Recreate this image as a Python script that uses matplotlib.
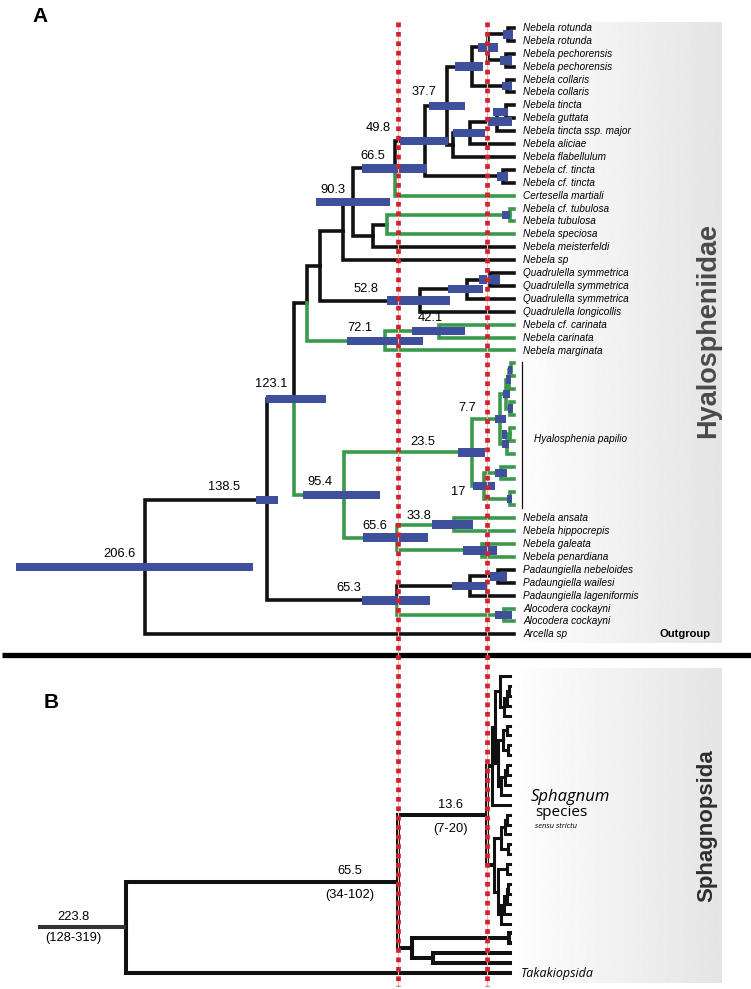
import matplotlib
matplotlib.use("Agg")
import matplotlib.pyplot as plt
import numpy as np
from matplotlib import transforms
from matplotlib.lines import Line2D

W, H = 751, 989

# ------------------------------------------------------------------ data A
A_TIPS = ["Nebela rotunda", "Nebela rotunda", "Nebela pechorensis", "Nebela pechorensis",
          "Nebela collaris", "Nebela collaris", "Nebela tincta", "Nebela guttata",
          "Nebela tincta ssp. major", "Nebela aliciae", "Nebela flabellulum",
          "Nebela cf. tincta", "Nebela cf. tincta", "Certesella martiali",
          "Nebela cf. tubulosa", "Nebela tubulosa", "Nebela speciosa", "Nebela meisterfeldi",
          "Nebela sp", "Quadrulella symmetrica", "Quadrulella symmetrica",
          "Quadrulella symmetrica", "Quadrulella longicollis", "Nebela cf. carinata",
          "Nebela carinata", "Nebela marginata"] + [""] * 12 + [
          "Nebela ansata", "Nebela hippocrepis", "Nebela galeata", "Nebela penardiana",
          "Padaungiella nebeloides", "Padaungiella wailesi", "Padaungiella lageniformis",
          "Alocodera cockayni", "Alocodera cockayni", "Arcella sp"]

# (node, children, age in Ma)
A_NODES = [
    ("rot", [0, 1], 3.4), ("pech", [2, 3], 4.5), ("rp", ["rot", "pech"], 14.6),
    ("col", [4, 5], 3.9), ("rpc", ["rp", "col"], 23.5),
    ("tg", [6, 7], 4.5), ("tgm", ["tg", 8], 9.5), ("ali", ["tgm", 9], 24.6),
    ("flab", ["ali", 10], 34.2), ("n37", ["rpc", "flab"], 37.7),
    ("cft", [11, 12], 6.2), ("n49", ["n37", "cft"], 49.8), ("n66", ["n49", 13], 66.5),
    ("tubp", [14, 15], 2.2), ("tub", ["tubp", 16], 71.1), ("tubm", ["tub", 17], 78.9),
    ("n90", ["n66", "tubm"], 90.3), ("nsp", ["n90", 18], 95.7),
    ("qp", [19, 20], 13.4), ("qs", ["qp", 21], 26.3), ("n52", ["qs", 22], 52.8),
    ("nq", ["nsp", "n52"], 108.6),
    ("n42", [23, 24], 42.1), ("n72", ["n42", 25], 72.1), ("nc", ["nq", "n72"], 115.9),
    ("a1", [26, 27], 1.5), ("a2", ["a1", 28], 3.0), ("a3", [29, 30], 2.0),
    ("pa", ["a2", "a3"], 4.5), ("b1", [31, 32], 2.0), ("pb", ["b1", 33], 4.0),
    ("n7", ["pa", "pb"], 7.7), ("c1", [34, 35], 7.0), ("c2", [36, 37], 2.5),
    ("n17", ["c1", "c2"], 17.0), ("n23", ["n7", "n17"], 23.5),
    ("n33", [38, 39], 33.8), ("gp", [40, 41], 17.9), ("n65b", ["n33", "gp"], 65.6),
    ("n95", ["n23", "n65b"], 95.4), ("n123", ["nc", "n95"], 123.1),
    ("nw", [42, 43], 9.0), ("pad", ["nw", 44], 24.6), ("alo", [45, 46], 5.6),
    ("n65", ["pad", "alo"], 65.3), ("n138", ["n123", "n65"], 138.5),
    ("root", ["n138", 47], 206.6),
]

# 95% HPD intervals (older, younger) in Ma
A_BARS = {
    "root": (278.8, 146.1), "n138": (144.5, 132.1), "n123": (138.9, 105.3),
    "n95": (118.1, 75.0), "n90": (110.9, 69.4), "n72": (93.5, 51.0),
    "n66": (85.1, 48.7), "n65b": (84.5, 48.2), "n65": (85.1, 47.0),
    "n52": (71.1, 35.8), "n49": (63.8, 37.0), "n42": (57.1, 27.4),
    "n37": (47.6, 27.4), "n33": (45.9, 23.0), "qs": (37.0, 17.4),
    "rpc": (33.0, 17.4), "n23": (31.4, 16.2), "ali": (34.2, 16.2),
    "pad": (34.7, 14.6), "n17": (23.0, 10.6), "gp": (28.6, 9.5),
    "rp": (20.2, 9.0), "qp": (19.6, 7.8), "tgm": (15.1, 1.1), "tg": (11.8, 3.4),
    "n7": (10.6, 4.5), "nw": (13.4, 3.9), "cft": (9.5, 3.4), "tubp": (6.7, 2.2),
    "alo": (10.6, 1.1), "rot": (6.2, 0.6), "pech": (7.8, 1.1), "col": (6.7, 1.1),
    "a1": (3.4, 1.1), "a2": (4.5, 1.7), "a3": (3.4, 0.6), "pa": (6.2, 2.2),
    "b1": (6.7, 3.9), "pb": (6.7, 2.8), "c1": (10.6, 3.9), "c2": (3.9, 1.1),
}

A_LABELED = ["root", "n138", "n123", "n95", "n90", "n72", "n66", "n65b", "n65",
             "n52", "n49", "n42", "n37", "n33", "n23", "n17", "n7"]
A_GREEN_CLADES = ["n95", "n72", "alo", "tubp", 13, 16]

# ------------------------------------------------------------------ data B
B_TIPS = [""] * 30 + ["Takakiopsida"]
B_NODES = [
    ("s1", [1, 2], 0.8), ("s2", ["s1", 3], 2.0), ("s3", ["s2", 4], 3.5),
    ("s4", [0, "s3"], 6.0), ("s5", [5, 6], 1.5), ("s6", [7, 8], 1.2),
    ("s7", ["s5", "s6"], 4.0), ("s8", [9, 10], 1.5), ("s9", ["s8", 11], 3.0),
    ("s10", ["s9", 12], 5.5), ("s11", ["s7", "s10"], 7.0), ("s12", ["s4", "s11"], 9.0),
    ("su", ["s12", 13], 10.5),
    ("d1", [14, 15], 1.5), ("d2", ["d1", 16], 3.0), ("d3", [17, 18], 1.0),
    ("d4", ["d2", "d3"], 5.0), ("d5", [19, 20], 2.0), ("d6", [21, 22], 1.0),
    ("d7", ["d6", 23], 2.0), ("d8", ["d7", 24], 3.5), ("d9", ["d8", 25], 5.0),
    ("d10", ["d5", "d9"], 7.0), ("sd", ["d4", "d10"], 9.5),
    ("sph", ["su", "sd"], 13.6),
    ("l1", [26, 27], 0.3), ("l2", [28, 29], 44.9), ("low", ["l1", "l2"], 57.1),
    ("n65", ["sph", "low"], 65.5), ("root", ["n65", 30], 223.8),
]
B_ROOT_STEM = 275.0
B_LABELS = {"root": ("223.8", "(128-319)"), "n65": ("65.5", "(34-102)"),
            "sph": ("13.6", "(7-20)")}
SPHAGNUM_NODES = ["su", "sd", "s1", "s2", "s3", "s4", "s5", "s6", "s7", "s8", "s9",
                  "s10", "s11", "s12", "d1", "d2", "d3", "d4", "d5", "d6", "d7",
                  "d8", "d9", "d10"]

REF_LINES = [65.5, 13.6]   # red dotted time markers (Ma)

# ------------------------------------------------------------------ style
BLACK = "#111111"
GREEN = "#3a9a4c"
BLUE = "#3e4f9c"
RED = "#d0232a"
NUM_FONT = ["Liberation Sans", "DejaVu Sans"]
TIP_FONT = ["Liberation Sans Narrow", "Liberation Sans", "DejaVu Sans"]
OPEN = ["Open Sans", "DejaVu Sans"]

# label offsets in pixels (dx, dy; dy downwards)
A_LABEL_OFF = {"root": (-26, -13), "n138": (-43, -13), "n123": (-23, -15),
               "n95": (-24, -13), "n90": (-20, -12), "n72": (-25, -13),
               "n66": (-22, -12), "n65b": (-22, -12), "n65": (-49, -12),
               "n52": (-54, -12), "n49": (-47, -13), "n42": (-8, -13),
               "n37": (-23, -14), "n33": (-35, -9), "n23": (-49, -10),
               "n17": (-25, 6), "n7": (-33, -11)}
B_LABEL_OFF = {"root": (-53, -10, 11), "n65": (-48, -11, 13), "sph": (-36, -10, 14)}

fig = plt.figure(figsize=(W / 100, H / 100), dpi=100)

# background decoration axes in pixel units
bg = fig.add_axes([0, 0, 1, 1], zorder=0)
bg.set_xlim(0, W)
bg.set_ylim(H, 0)
bg.axis("off")
grad = np.linspace(0.995, 0.895, 256)[None, :]
bg.imshow(grad, cmap="gray", vmin=0, vmax=1, aspect="auto",
          extent=(516, 722, 643, 22), interpolation="bilinear")
bg.imshow(grad, cmap="gray", vmin=0, vmax=1, aspect="auto",
          extent=(517, 722, 983, 668), interpolation="bilinear")
bg.set_xlim(0, W)
bg.set_ylim(H, 0)
bg.plot([2, W], [655, 655], color="black", lw=3.8, solid_capstyle="butt")
bg.text(40, 17, "A", fontsize=15, fontweight="bold", family=NUM_FONT,
        ha="center", va="center")
bg.text(51, 703, "B", fontsize=15, fontweight="bold", family=NUM_FONT,
        ha="center", va="center")
bg.text(708, 331, "Hyalospheniidae", rotation=90, fontsize=19.5, fontweight="bold",
        color="#4a4a4a", family=NUM_FONT, ha="center", va="center")
bg.text(707, 826, "Sphagnopsida", rotation=90, fontsize=16, fontweight="bold",
        color="#2e2e2e", family=NUM_FONT, ha="center", va="center")
bg.text(660, 634, "Outgroup", fontsize=8, fontweight="bold", family=NUM_FONT,
        ha="left", va="center")
bg.text(531, 797, "Sphagnum", fontsize=12, style="italic", family=OPEN,
        ha="left", va="center")
bg.text(535, 812, "species", fontsize=11, family=OPEN, ha="left", va="center")
bg.text(535, 826, "sensu strictu", fontsize=5.5, style="italic", family=OPEN,
        ha="left", va="center")


def layout(tips, nodes):
    ypos = {i: float(i) for i in range(len(tips))}
    age = {i: 0.0 for i in range(len(tips))}
    kids = {}
    for name, ch, a in nodes:
        kids[name] = ch
        age[name] = a
        ys = [ypos[c] for c in ch]
        ypos[name] = (min(ys) + max(ys)) / 2
    return ypos, age, kids


def descendants(kids, n):
    out = {n}
    for c in kids.get(n, []):
        out |= descendants(kids, c)
    return out


def draw_tree(ax, nodes, ypos, age, green, lw, lw_small=None, small=()):
    for col_pass in (False, True):
        for name, ch, a in nodes:
            for c in ch:
                is_g = c in green
                if is_g != col_pass:
                    continue
                w = lw_small if (lw_small and name in small) else lw
                ax.plot([a, a, age[c]], [ypos[name], ypos[c], ypos[c]],
                        color=GREEN if is_g else BLACK, lw=w,
                        solid_joinstyle="miter", solid_capstyle="projecting",
                        zorder=2)


# ------------------------------------------------------------------ panel A
A_PX_PER_MA = 1.786
A_X0 = 514.0            # pixel of age 0
A_Y0, A_DY = 28.0, 12.9  # pixel of tip 0, spacing
axA = fig.add_axes([0, (H - 655) / H, 1, 655 / H], zorder=1)
axA.set_xlim(A_X0 / A_PX_PER_MA, (A_X0 - W) / A_PX_PER_MA)
axA.set_ylim((655 - A_Y0) / A_DY, -A_Y0 / A_DY)
axA.axis("off")
axA.patch.set_alpha(0)

yA, ageA, kidsA = layout(A_TIPS, A_NODES)
greenA = set()
for g in A_GREEN_CLADES:
    greenA |= descendants(kidsA, g)
draw_tree(axA, A_NODES, yA, ageA, greenA, lw=2.6)

for n, (hi, lo) in A_BARS.items():
    axA.barh(yA[n], hi - lo, left=lo, height=0.66, color=BLUE, zorder=3)

for n in A_LABELED:
    dx, dy = A_LABEL_OFF[n]
    axA.annotate(f"{ageA[n]:g}", xy=(ageA[n], yA[n]), xytext=(dx * 0.72, -dy * 0.72),
                 textcoords="offset points", ha="center", va="center",
                 fontsize=9.3, family=NUM_FONT, zorder=6)

for i, name in enumerate(A_TIPS):
    if name:
        axA.annotate(name, xy=(0, i), xytext=(6.5, 0), textcoords="offset points",
                     ha="left", va="center", fontsize=7.2, style="italic",
                     family=TIP_FONT)

# Hyalosphenia papilio bracket
pap = [i for i, t in enumerate(A_TIPS) if t == ""]
bx = -8 / A_PX_PER_MA
axA.plot([bx, bx], [pap[0] - 0.1, pap[-1] + 0.2], color=BLACK, lw=0.9)
axA.annotate("Hyalosphenia papilio", xy=(bx, (pap[0] + pap[-1]) / 2 + 0.35),
             xytext=(9, 0), textcoords="offset points", ha="left", va="center",
             fontsize=7.2, style="italic", family=TIP_FONT)

# ------------------------------------------------------------------ panel B
B_PX_PER_MA = 1.715
B_X0 = 510.0
B_Y0, B_DY = 676.0, 9.9
axB = fig.add_axes([0, 0, 1, (H - 655) / H], zorder=2)
axB.set_xlim(B_X0 / B_PX_PER_MA, (B_X0 - W) / B_PX_PER_MA)
axB.set_ylim((H - B_Y0) / B_DY, (655 - B_Y0) / B_DY)
axB.axis("off")
axB.patch.set_alpha(0)

yB, ageB, kidsB = layout(B_TIPS, B_NODES)
draw_tree(axB, B_NODES, yB, ageB, set(), lw=2.9, lw_small=2.2, small=SPHAGNUM_NODES)
axB.plot([B_ROOT_STEM, ageB["root"]], [yB["root"], yB["root"]], color="#333333",
         lw=2.9, solid_capstyle="butt", zorder=2)

for n, (top, bot) in B_LABELS.items():
    dx, dy1, dy2 = B_LABEL_OFF[n]
    axB.annotate(top, xy=(ageB[n], yB[n]), xytext=(dx * 0.72, -dy1 * 0.72),
                 textcoords="offset points", ha="center", va="center",
                 fontsize=9.3, family=NUM_FONT)
    axB.annotate(bot, xy=(ageB[n], yB[n]), xytext=(dx * 0.72, -dy2 * 0.72),
                 textcoords="offset points", ha="center", va="center",
                 fontsize=9.3, family=NUM_FONT)

for i, name in enumerate(B_TIPS):
    if name:
        axB.annotate(name, xy=(0, i), xytext=(8, 0), textcoords="offset points",
                     ha="left", va="center", fontsize=9, style="italic", family=OPEN)

# red dotted reference lines across both panels
tr = transforms.blended_transform_factory(axB.transData, fig.transFigure)
for a in REF_LINES:
    axB.add_line(Line2D([a, a], [1 - 22 / H, 1 - 986 / H], transform=tr,
                        color="#f2b8b8", lw=0.8, clip_on=False, zorder=5))
    axB.add_line(Line2D([a, a], [1 - 22 / H, 1 - 986 / H], transform=tr,
                        color=RED, lw=3.4, linestyle=(0, (1, 1)),
                        dash_capstyle="butt", clip_on=False, zorder=6))

fig.savefig("out.png", dpi=100)
